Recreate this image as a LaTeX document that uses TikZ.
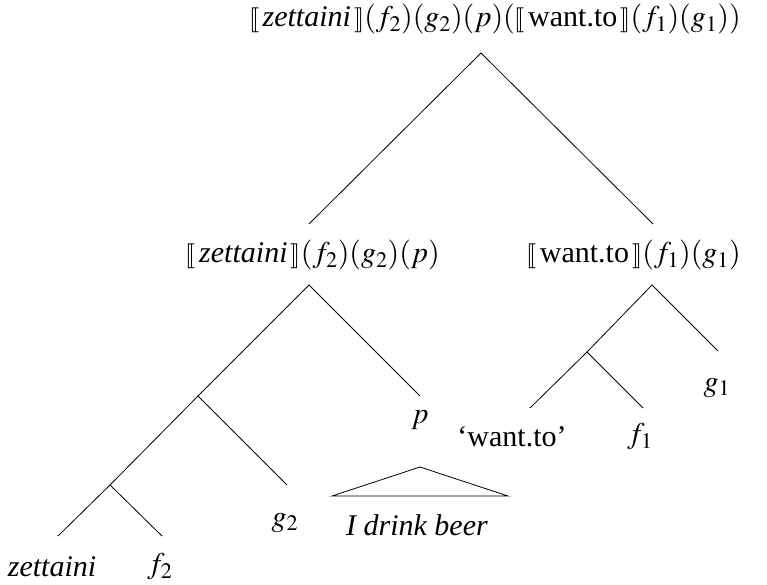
\documentclass[tikz,border=0pt]{standalone}
\usepackage{mathptmx}
\usepackage{stmaryrd}
\usepackage[no-math]{fontspec}
\setmainfont{Liberation Serif}
\newcommand{\sembr}[1]{\llbracket\,#1\,\rrbracket}

\begin{document}
\begin{tikzpicture}[
    x=1pt, y=-1pt,
    every node/.style={font=\fontsize{30}{34}\selectfont, inner sep=0pt},
    branch/.style={line width=0.8pt}
]
\useasboundingbox (0,0) rectangle (767,585);

% labels
\node (root) at (495,19) {$\sembr{\textit{zettaini}}(f_2)(g_2)(p)(\sembr{\mbox{want.to}}(f_1)(g_1))$};
\node (zett) [anchor=east] at (440,255) {$\sembr{\textit{zettaini}}(f_2)(g_2)(p)$};
\node (want) [anchor=east] at (root.east |- zett.east) {$\sembr{\mbox{want.to}}(f_1)(g_1)$};
\node (zet) at (52,567) {\textit{zettaini}};
\node (ftwo) at (160,567) {$f_2$};
\node (gtwo) at (285,523) {$g_2$};
\node (p) at (420,420) {$p$};
\node (beer) at (417,525) {\textit{I drink beer}};
\node (wto) at (512,437) {`want.to'};
\node (fone) at (640,437) {$f_1$};
\node (gone) at (717,388) {$g_1$};

% branch points
\coordinate (rootT) at (481,53);
\coordinate (zettB) at (309,224);
\coordinate (wantB) at (653,224);
\coordinate (zettT) at (309,285);
\coordinate (pB) at (420,396);
\coordinate (n1) at (198,396);
\coordinate (n2) at (110,485);
\coordinate (zetB) at (58,536);
\coordinate (ftwoB) at (162,536);
\coordinate (gtwoB) at (287,485);
\coordinate (wantT) at (652,285);
\coordinate (goneB) at (718,351);
\coordinate (n3) at (587,352);
\coordinate (wtoB) at (530,408);
\coordinate (foneB) at (643,408);
\coordinate (triT) at (420,467);
\coordinate (triL) at (332,496);
\coordinate (triR) at (508,496);

\draw[branch] (zettB) -- (rootT) -- (wantB);
\draw[branch] (zetB) -- (n2) -- (n1) -- (zettT) -- (pB);
\draw[branch] (n1) -- (gtwoB);
\draw[branch] (n2) -- (ftwoB);
\draw[branch] (wtoB) -- (n3) -- (wantT) -- (goneB);
\draw[branch] (n3) -- (foneB);
\draw[branch] (triT) -- (triL) -- (triR) -- cycle;

\end{tikzpicture}
\end{document}
